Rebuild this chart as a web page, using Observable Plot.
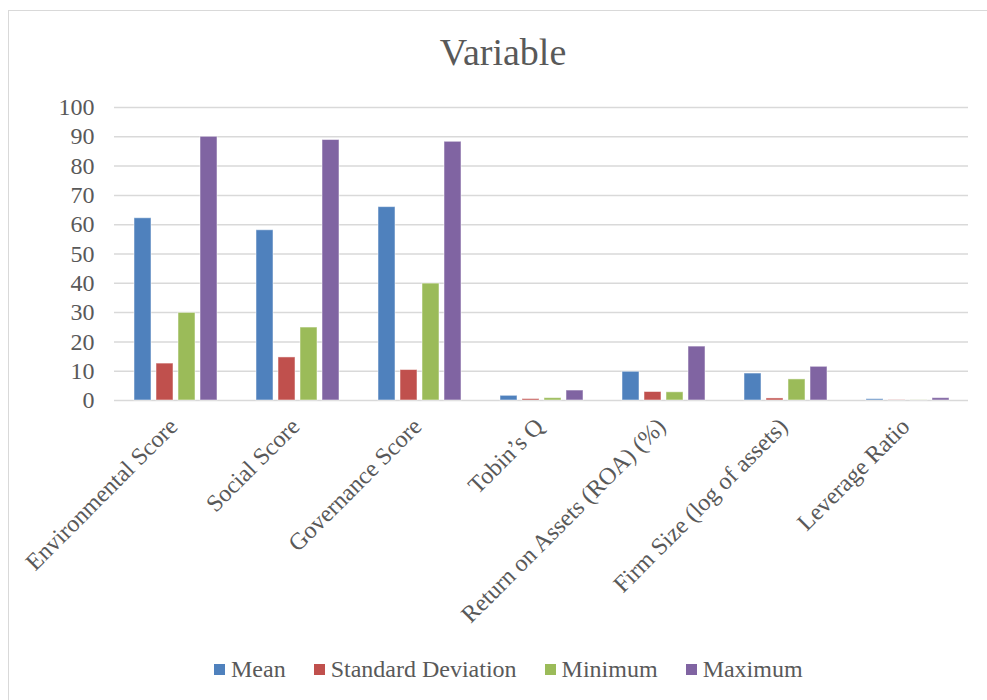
<!DOCTYPE html>
<html><head><meta charset="utf-8">
<script src="https://cdn.jsdelivr.net/npm/d3@7"></script>
<script src="https://cdn.jsdelivr.net/npm/@observablehq/plot@0.6"></script>
<style>
body{margin:0;background:#fff;overflow:hidden;width:987px;height:700px;position:relative;font-family:"Liberation Serif","Times New Roman",serif;color:#595959}
#frame{position:absolute;left:8px;top:10px;width:1000px;height:720px;border:1.5px solid #d9d9d9;box-sizing:border-box}
#title{position:absolute;left:303px;top:33px;width:400px;text-align:center;font-family:"Liberation Serif",serif;font-size:38px;line-height:38px}
#chart{position:absolute;left:0;top:0}
#legend{position:absolute;left:214px;top:657px;display:flex;align-items:center;font-family:"Liberation Serif",serif;font-size:24px;line-height:24px;white-space:nowrap;color:#595959}
.item{display:flex;align-items:center;margin-right:28px;font-family:"Liberation Serif",serif}
.sw{display:inline-block;width:11px;height:11px;margin-right:6px}
</style></head><body>
<div id="frame"></div>
<div id="chart"></div>
<div id="title">Variable</div>
<div id="legend"></div>
<script>
const categories = ["Environmental Score","Social Score","Governance Score","Tobin’s Q","Return on Assets (ROA) (%)","Firm Size (log of assets)","Leverage Ratio"];
const series = ["Mean","Standard Deviation","Minimum","Maximum"];
const meanValues = [62.2, 58.1, 66.0, 1.6, 9.8, 9.2, 0.45];
const sdValues   = [12.6, 14.7, 10.4, 0.5, 2.9, 0.7, 0.08];
const minValues  = [29.9, 24.9, 39.9, 0.8, 2.8, 7.2, 0.05];
const maxValues  = [90.0, 88.9, 88.3, 3.4, 18.4, 11.5, 0.8];
const colors = ["#4f81bd","#c0504d","#9bbb59","#8064a2"];
const yTicks = [0,10,20,30,40,50,60,70,80,90,100];

const valueArrays = [meanValues, sdValues, minValues, maxValues];
const data = categories.flatMap((c, i) => series.map((s, j) => ({category: c, series: s, value: valueArrays[j][i]})));

const chart = Plot.plot({
  width: 987, height: 700,
  marginTop: 107, marginBottom: 300, marginLeft: 113, marginRight: 18,
  style: {fontFamily: "Liberation Serif", fontSize: "24px", color: "#595959", background: "transparent"},
  fx: {domain: categories, paddingInner: 0, paddingOuter: 0, label: null},
  x: {domain: series, paddingInner: 0.24, paddingOuter: 0.86, axis: null},
  y: {domain: [0, 100], axis: null},
  color: {domain: series, range: colors},
  marks: [
    Plot.ruleY(yTicks, {stroke: "#d9d9d9", strokeWidth: 1.5}),
    Plot.barY(data, {fx: "category", x: "series", y: "value", fill: "series", stroke: "white", strokeOpacity: 0.5, strokeWidth: 1}),
    Plot.axisY({ticks: yTicks, tickSize: 0, tickPadding: 20, fontSize: 24, color: "#595959", label: null}),
    Plot.axisFx({anchor: "bottom", tickSize: 0, tickPadding: 22, dx: -2, tickRotate: -45, textAnchor: "end", fontSize: 24, color: "#595959", label: null})
  ]
});
document.getElementById("chart").appendChild(chart);

const legend = document.getElementById("legend");
series.forEach((s, j) => {
  const item = document.createElement("div");
  item.className = "item";
  const sw = document.createElement("span");
  sw.className = "sw";
  sw.style.background = colors[j];
  const t = document.createElement("span");
  t.textContent = s;
  item.appendChild(sw); item.appendChild(t);
  legend.appendChild(item);
});
</script>
</body></html>
